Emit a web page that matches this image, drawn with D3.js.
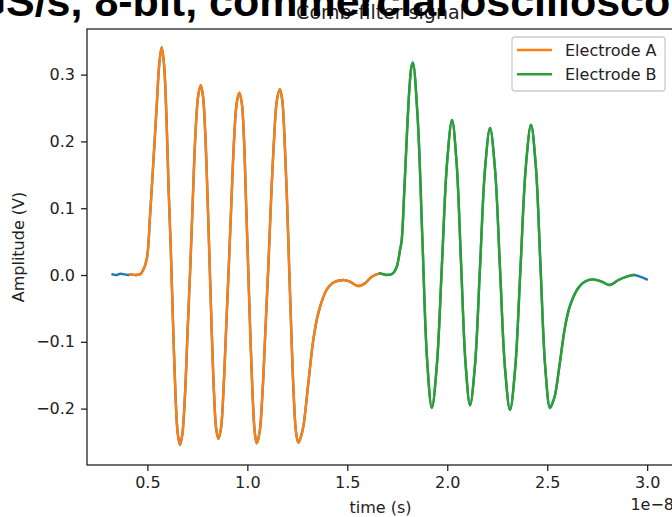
<!DOCTYPE html>
<html>
<head>
<meta charset="utf-8">
<script src="https://cdn.jsdelivr.net/npm/d3@7/dist/d3.min.js"></script>
<style>
  html, body { margin: 0; padding: 0; background: #fff; overflow: hidden; }
  svg { display: block; }
  svg text { font-family: "DejaVu Sans", sans-serif; }
  svg text.heading { font-family: "Liberation Sans", Arial, sans-serif; font-weight: bold; }
</style>
</head>
<body>
<svg id="chart" width="672" height="517"></svg>
<script>
// Time values are in units of 1e-8 s (see the axis offset label).
// Baseline before electrode A fires
const leadTime = [0.326, 0.345, 0.365, 0.385, 0.405, 0.413];
const leadAmp  = [0.001, 0.000, 0.002, 0.001, 0.000, 0.001];

// Electrode A burst
const timeA = [0.413, 0.440, 0.463, 0.478, 0.497, 0.513, 0.530, 0.547, 0.560, 0.5715,
  0.583, 0.595, 0.606, 0.617, 0.628, 0.640, 0.651, 0.663, 0.675, 0.688,
  0.701, 0.715, 0.728, 0.741, 0.754, 0.767, 0.778, 0.789, 0.800, 0.811,
  0.822, 0.833, 0.844, 0.855, 0.868, 0.881, 0.894, 0.9075, 0.921, 0.934,
  0.947, 0.960, 0.972, 0.983, 0.993, 1.004, 1.015, 1.026, 1.037, 1.047,
  1.0615, 1.076, 1.090, 1.105, 1.119, 1.134, 1.148, 1.163, 1.1745, 1.186,
  1.1975, 1.209, 1.2205, 1.232, 1.2435, 1.255, 1.267, 1.280, 1.305, 1.330,
  1.355, 1.397, 1.4285, 1.480, 1.5135, 1.5535, 1.5885, 1.622, 1.6635];
const ampA = [0.001, 0.000, 0.001, 0.007, 0.024, 0.087, 0.170, 0.255, 0.318, 0.341,
  0.316, 0.240, 0.130, 0.040, -0.070, -0.175, -0.235, -0.2545, -0.238, -0.180,
  -0.085, 0.015, 0.120, 0.215, 0.268, 0.284, 0.268, 0.215, 0.125, 0.020,
  -0.085, -0.175, -0.230, -0.2455, -0.230, -0.170, -0.080, 0.015, 0.115, 0.205,
  0.258, 0.273, 0.258, 0.205, 0.115, 0.012, -0.090, -0.178, -0.235, -0.252,
  -0.235, -0.175, -0.085, 0.013, 0.115, 0.205, 0.262, 0.278, 0.262, 0.205,
  0.120, 0.013, -0.090, -0.180, -0.235, -0.251, -0.243, -0.227, -0.162, -0.097,
  -0.057, -0.022, -0.0115, -0.0075, -0.010, -0.0165, -0.0125, -0.0025, 0.0025];

// Electrode B burst
const timeB = [1.6635, 1.697, 1.7285, 1.747, 1.7635, 1.772, 1.785, 1.799, 1.812, 1.821,
  1.828, 1.852, 1.8755, 1.899, 1.923, 1.948, 1.9735, 1.999, 2.024, 2.0465,
  2.069, 2.0915, 2.114, 2.139, 2.164, 2.189, 2.214, 2.239, 2.264, 2.289,
  2.314, 2.340, 2.3665, 2.393, 2.419, 2.443, 2.4665, 2.490, 2.514, 2.526,
  2.539, 2.564, 2.589, 2.614, 2.656, 2.6875, 2.730, 2.7725, 2.814, 2.856,
  2.898, 2.931];
const ampB = [0.0025, 0.000, 0.0025, 0.012, 0.037, 0.052, 0.125, 0.215, 0.285, 0.312,
  0.318, 0.235, 0.055, -0.126, -0.199, -0.135, 0.0165, 0.168, 0.232, 0.169,
  0.0185, -0.132, -0.195, -0.134, 0.0125, 0.159, 0.220, 0.158, 0.009, -0.140,
  -0.202, -0.139, 0.0115, 0.162, 0.225, 0.163, 0.013, -0.137, -0.199, -0.192,
  -0.180, -0.130, -0.078, -0.046, -0.019, -0.010, -0.0065, -0.010, -0.015, -0.0075,
  -0.0025, 0.000];

// Baseline after electrode B
const tailTime = [2.931, 2.964, 2.998];
const tailAmp  = [0.000, -0.0025, -0.0065];

const xTicks = [0.5, 1.0, 1.5, 2.0, 2.5, 3.0];
const xTickLabels = ["0.5", "1.0", "1.5", "2.0", "2.5", "3.0"];
const yTicks = [-0.2, -0.1, 0.0, 0.1, 0.2, 0.3];
const yTickLabels = ["\u22120.2", "\u22120.1", "0.0", "0.1", "0.2", "0.3"];

const seriesNames = ["Electrode A", "Electrode B"];
const colors = { full: "#1f77b4", A: "#ff7f0e", B: "#2ca02c" };
const ink = "#222";

const svg = d3.select("#chart");
const frame = { left: 87, top: 29, right: 674, bottom: 465 };

const x = d3.scaleLinear().domain([0.1979, 3.1343]).range([frame.left, frame.right]);
const y = d3.scaleLinear().domain([-0.2844, 0.3683]).range([frame.bottom, frame.top]);

const pts = (ts, vs) => ts.map((t, i) => [t, vs[i]]);
const fullTrace = [].concat(
  pts(leadTime, leadAmp).slice(0, -1),
  pts(timeA, ampA).slice(0, -1),
  pts(timeB, ampB).slice(0, -1),
  pts(tailTime, tailAmp)
);

const line = d3.line()
  .x(d => x(d[0]))
  .y(d => y(d[1]))
  .curve(d3.curveCatmullRom.alpha(0.5));

svg.append("clipPath").attr("id", "clip")
  .append("rect")
  .attr("x", frame.left).attr("y", frame.top)
  .attr("width", frame.right - frame.left).attr("height", frame.bottom - frame.top);

const traces = svg.append("g").attr("clip-path", "url(#clip)")
  .attr("fill", "none").attr("stroke-width", 2.4)
  .attr("stroke-linejoin", "round").attr("stroke-linecap", "square");

traces.append("path").datum(fullTrace).attr("stroke", colors.full).attr("d", line);
traces.append("path").datum(pts(timeA, ampA)).attr("stroke", colors.A).attr("d", line);
traces.append("path").datum(pts(timeB, ampB)).attr("stroke", colors.B).attr("d", line);

// Axes
const xAxis = d3.axisBottom(x).tickValues(xTicks)
  .tickFormat((d, i) => xTickLabels[i]).tickSize(6).tickPadding(6);
const yAxis = d3.axisLeft(y).tickValues(yTicks)
  .tickFormat((d, i) => yTickLabels[i]).tickSize(6).tickPadding(6);

const gx = svg.append("g").attr("transform", `translate(0,${frame.bottom})`).call(xAxis);
const gy = svg.append("g").attr("transform", `translate(${frame.left},0)`).call(yAxis);
[gx, gy].forEach(g => {
  g.attr("font-family", null).attr("font-size", null);
  g.select(".domain").remove();
  g.selectAll(".tick line").attr("stroke", ink).attr("stroke-width", 1.3);
  g.selectAll(".tick text").style("font-size", "16px").attr("fill", ink);
});

// Spines
svg.append("rect")
  .attr("x", frame.left).attr("y", frame.top)
  .attr("width", frame.right - frame.left).attr("height", frame.bottom - frame.top)
  .attr("fill", "none").attr("stroke", ink).attr("stroke-width", 1.3);

// Axis labels
svg.append("text").attr("x", 380.5).attr("y", 513)
  .attr("text-anchor", "middle").style("font-size", "16px").attr("fill", ink).text("time (s)");
svg.append("text").attr("x", frame.right).attr("y", 510)
  .attr("text-anchor", "end").style("font-size", "16px").attr("fill", ink).text("1e\u22128");
svg.append("text")
  .attr("transform", "translate(24,247) rotate(-90)")
  .attr("text-anchor", "middle").style("font-size", "16px").attr("fill", ink).text("Amplitude (V)");

// Axes title
svg.append("text").attr("x", 380.5).attr("y", 19)
  .attr("text-anchor", "middle").style("font-size", "19px").attr("fill", ink).text("Comb-filter signal");

// Legend
const legend = svg.append("g");
legend.append("rect").attr("x", 512).attr("y", 37).attr("width", 153).attr("height", 54)
  .attr("rx", 3).attr("fill", "#fff").attr("fill-opacity", 0.8)
  .attr("stroke", "#cccccc").attr("stroke-width", 1.3);
seriesNames.forEach((name, i) => {
  const cy = 50 + i * 24.3;
  legend.append("line").attr("x1", 517).attr("x2", 552).attr("y1", cy).attr("y2", cy)
    .attr("stroke", i === 0 ? colors.A : colors.B).attr("stroke-width", 2.4);
  legend.append("text").attr("x", 565).attr("y", cy + 5.8)
    .style("font-size", "16px").attr("fill", ink).text(name);
});

// Slide heading overlaid across the top
svg.append("text").attr("class", "heading").attr("x", -27.5).attr("y", 16)
  .style("font-size", "43px").attr("fill", "#000")
  .text("GS/s, 8-bit, commercial oscilloscope");
</script>
</body>
</html>
